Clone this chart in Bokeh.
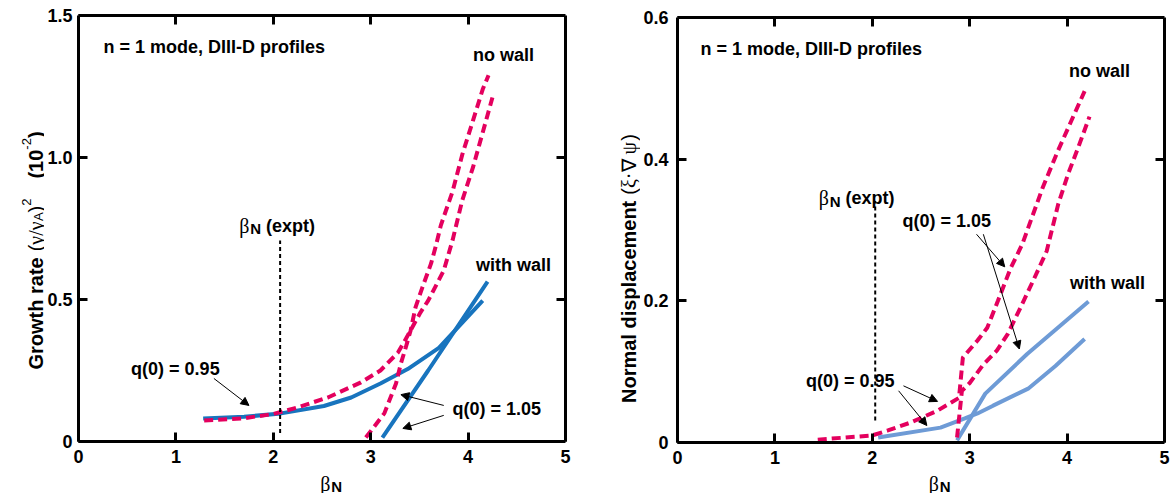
import math
from bokeh.plotting import figure
from bokeh.models import (Range1d, FixedTicker, LinearAxis, Label, Arrow, NormalHead,
                          CustomLabelingPolicy)
from bokeh.layouts import row, column
from bokeh.embed import file_html
from bokeh.resources import INLINE

# ---------------- data ----------------
x_ticks = [0, 1, 2, 3, 4, 5]
x_tick_labels = ["0", "1", "2", "3", "4", "5"]
gr_y_ticks = [0, 0.5, 1.0, 1.5]
gr_y_tick_labels = ["0", "0.5", "1.0", "1.5"]
nd_y_ticks = [0, 0.2, 0.4, 0.6]
nd_y_tick_labels = ["0", "0.2", "0.4", "0.6"]

# Growth rate panel (left)
gr_q095_wall_beta = [1.28, 1.7, 2.08, 2.52, 2.80, 3.10, 3.38, 3.70, 4.15]
gr_q095_wall_val = [0.081, 0.087, 0.099, 0.125, 0.155, 0.204, 0.255, 0.33, 0.496]
gr_q105_wall_beta = [3.12, 3.59, 4.20]
gr_q105_wall_val = [0.014, 0.25, 0.563]
gr_q095_nowall_beta = [1.29, 1.7, 2.0, 2.25, 2.56, 2.90, 3.10, 3.28, 3.38, 3.51, 3.59,
                       3.75, 3.84, 3.94, 4.05, 4.15, 4.25]
gr_q095_nowall_val = [0.074, 0.082, 0.097, 0.12, 0.155, 0.208, 0.25, 0.313, 0.373, 0.454, 0.496,
                      0.602, 0.708, 0.849, 0.965, 1.088, 1.211]
gr_q105_nowall_beta = [2.95, 3.14, 3.26, 3.31, 3.36, 3.41, 3.46, 3.53, 3.62, 3.67, 3.72,
                       3.84, 3.94, 4.05, 4.15, 4.21]
gr_q105_nowall_val = [0.014, 0.099, 0.204, 0.275, 0.331, 0.391, 0.472, 0.542, 0.627, 0.69, 0.761,
                      0.88, 1.01, 1.13, 1.24, 1.29]
gr_beta_expt = 2.07
gr_expt_line = [0.03, 0.708]

# Normal displacement panel (right)
nd_q095_wall_beta = [2.06, 2.70, 2.95, 3.08, 3.24, 3.60, 3.88, 4.18]
nd_q095_wall_val = [0.007, 0.021, 0.034, 0.041, 0.052, 0.076, 0.108, 0.146]
nd_q105_wall_beta = [2.87, 3.16, 3.59, 4.22]
nd_q105_wall_val = [0.003, 0.069, 0.125, 0.199]
nd_q095_nowall_beta = [1.44, 2.0, 2.16, 2.39, 2.67, 2.89, 2.93, 3.08, 3.18, 3.29, 3.42, 3.54,
                       3.75, 3.90, 4.03, 4.18]
nd_q095_nowall_val = [0.004, 0.01, 0.017, 0.028, 0.045, 0.063, 0.12, 0.144, 0.162, 0.20, 0.246,
                      0.28, 0.36, 0.41, 0.45, 0.496]
nd_q105_nowall_beta = [2.87, 2.92, 3.0, 3.14, 3.28, 3.39, 3.52, 3.65, 3.79, 3.91, 4.01, 4.11, 4.23]
nd_q105_nowall_val = [0.007, 0.073, 0.084, 0.11, 0.13, 0.153, 0.19, 0.228, 0.27, 0.337, 0.379,
                      0.415, 0.46]
nd_beta_expt = 2.03
nd_expt_line = [0.031, 0.341]

# ---------------- styles ----------------
RED = "#e4005e"
BLUE_L = "#1874be"
BLUE_R = "#6e9bd6"
SANS = "Liberation Sans"
SERIF = "Liberation Serif"
FS = 18
TS = 20
H = 493

SANS_B = {' ': .278, '(': .333, ')': .333, '-': .333, '.': .278, ',': .278, '=': .584,
          'A': .722, 'D': .722, 'G': .778, 'I': .278, 'N': .722, 'a': .556, 'c': .556,
          'd': .611, 'e': .556, 'f': .333, 'h': .611, 'i': .278, 'l': .278, 'm': .889,
          'n': .611, 'o': .611, 'p': .611, 'r': .389, 's': .556, 't': .333, 'w': .778,
          'x': .556}
SANS_R = {' ': .278, '(': .333, ')': .333, '/': .278, 'A': .667, '-': .333, '·': .333}
SERIF_R = {'β': .55, 'γ': .45, 'ξ': .45, 'ψ': .70, '∇': .72, '·': .25, ' ': .25, '/': .278}

HIDE_LABELS = CustomLabelingPolicy(
    code="const all = Array.from(indices); for (const i of all) { indices.unset(i) } return indices")


def text_width(txt, font, style, size):
    if font == SERIF:
        table = SERIF_R
    elif style == "bold":
        table = SANS_B
    else:
        table = SANS_R
    return sum(table.get(c, .556) for c in txt) * size


def piece_list_width(pieces):
    return sum(text_width(t, f, s, z) + g for t, f, s, z, sh, g in pieces)


def compose(p, x, y, pieces, vertical=False):
    adv = 0.0
    for txt, font, style, size, shift, gap in pieces:
        adv += gap
        kw = dict(x=x, y=y, text=txt, text_font=font, text_font_style=style,
                  text_font_size=f"{size}px", text_align="left",
                  text_baseline="alphabetic", text_color="black")
        if vertical:
            kw.update(angle=math.pi / 2, x_offset=-shift, y_offset=adv)
        else:
            kw.update(x_offset=adv, y_offset=shift)
        p.add_layout(Label(**kw))
        adv += text_width(txt, font, style, size)


def note(p, x, y, txt):
    p.add_layout(Label(x=x, y=y, text=txt, text_font=SANS, text_font_style="bold",
                       text_font_size=f"{FS}px", text_align="left", text_baseline="middle",
                       text_color="black"))


def arrow(p, x0, y0, x1, y1):
    p.add_layout(Arrow(x_start=x0, y_start=y0, x_end=x1, y_end=y1, line_width=1,
                       line_color="black",
                       end=NormalHead(size=8, fill_color="black", line_color="black",
                                      line_width=1)))


def strip(width, height):
    s = figure(width=width, height=height, x_range=Range1d(0, width),
               y_range=Range1d(0, height), output_backend="svg", toolbar_location=None,
               x_axis_type=None, y_axis_type=None, min_border=0,
               min_border_left=0, min_border_right=0, min_border_top=0, min_border_bottom=0)
    s.grid.visible = False
    s.outline_line_color = None
    return s


def make_fig(width, height, ymax, yticks, ylabels, bl, br, bt, bb, ystandoff):
    p = figure(width=width, height=height, x_range=Range1d(0, 5), y_range=Range1d(0, ymax),
               output_backend="svg", toolbar_location=None,
               min_border_left=bl, min_border_right=br, min_border_top=bt,
               min_border_bottom=bb)
    p.grid.visible = False
    p.outline_line_color = None
    xa = p.xaxis[0]
    xa.ticker = FixedTicker(ticks=x_ticks)
    xa.major_label_overrides = {t: l for t, l in zip(x_ticks, x_tick_labels)}
    ya = p.yaxis[0]
    ya.ticker = FixedTicker(ticks=yticks)
    ya.major_label_overrides = {t: l for t, l in zip(yticks, ylabels)}
    for ax in (xa, ya):
        ax.axis_line_width = 3
        ax.major_tick_line_width = 3
        ax.major_tick_in = 9
        ax.major_tick_out = 0
        ax.minor_tick_line_color = None
        ax.major_label_text_font = SANS
        ax.major_label_text_font_style = "bold"
        ax.major_label_text_font_size = f"{FS}px"
        ax.major_label_text_color = "black"
    xa.major_label_standoff = 8
    ya.major_label_standoff = ystandoff
    top = LinearAxis(ticker=FixedTicker(ticks=x_ticks[1:-1]), major_label_policy=HIDE_LABELS,
                     major_label_standoff=0, major_label_text_font_size="1px")
    right = LinearAxis(ticker=FixedTicker(ticks=yticks[1:-1]), major_label_policy=HIDE_LABELS,
                       major_label_standoff=0, major_label_text_font_size="1px")
    for ax in (top, right):
        ax.axis_line_width = 3
        ax.major_tick_line_width = 3
        ax.major_tick_in = 9
        ax.major_tick_out = 0
        ax.minor_tick_line_color = None
    p.add_layout(top, "above")
    p.add_layout(right, "right")
    return p


BETA_N = [("β", SERIF, "normal", 20, 0, 0), ("N", SANS, "bold", 15, -3, 0)]
MAIN_H, XT_H = 469, 24

# ---------------- left panel ----------------
L_TITLE_W, L_MAIN_W = 44, 542
p1 = make_fig(L_MAIN_W, MAIN_H, 1.5, gr_y_ticks, gr_y_tick_labels, 33, 21, 15, 28, 6)
p1.line(gr_q095_wall_beta, gr_q095_wall_val, line_color=BLUE_L, line_width=4)
p1.line(gr_q105_wall_beta, gr_q105_wall_val, line_color=BLUE_L, line_width=4)
p1.line(gr_q095_nowall_beta, gr_q095_nowall_val, line_color=RED, line_width=4, line_dash="9 5")
p1.line(gr_q105_nowall_beta, gr_q105_nowall_val, line_color=RED, line_width=4, line_dash="9 5")
p1.line([gr_beta_expt, gr_beta_expt], gr_expt_line, line_color="black", line_width=2,
        line_dash="4 3")

note(p1, 0.256, 1.39, "n = 1 mode, DIII-D profiles")
note(p1, 4.05, 1.36, "no wall")
note(p1, 4.08, 0.62, "with wall")
note(p1, 0.54, 0.257, "q(0) = 0.95")
note(p1, 3.84, 0.116, "q(0) = 1.05")
arrow(p1, 1.39, 0.222, 1.75, 0.127)
arrow(p1, 3.75, 0.127, 3.31, 0.165)
arrow(p1, 3.75, 0.092, 3.33, 0.046)
compose(p1, 1.65, 0.76, BETA_N + [("(expt)", SANS, "bold", FS, 0, 5)])

gr_ytitle = [("Growth rate", SANS, "bold", TS, 0, 0),
             ("(", SANS, "normal", TS, 0, 6),
             ("γ/γ", SERIF, "normal", TS, 0, 0),
             ("A", SANS, "normal", 13, -3, 0),
             (")", SANS, "normal", TS, 0, 0),
             ("2", SANS, "normal", 13, 9, 0),
             ("(10", SANS, "bold", TS, 0, 20),
             ("-2", SANS, "normal", 13, 9, 0),
             (")", SANS, "bold", TS, 0, 0)]
yt1 = strip(L_TITLE_W, H)
compose(yt1, 35, (H - 250) - piece_list_width(gr_ytitle) / 2, gr_ytitle, vertical=True)
xt1 = strip(L_MAIN_W, XT_H)
compose(xt1, 313 - L_TITLE_W, 10, BETA_N)

# ---------------- right panel ----------------
R_TITLE_W, R_MAIN_W = 54, 533
p2 = make_fig(R_MAIN_W, MAIN_H, 0.6, nd_y_ticks, nd_y_tick_labels, 37, 9, 17, 27, 9)
p2.line(nd_q095_wall_beta, nd_q095_wall_val, line_color=BLUE_R, line_width=4)
p2.line(nd_q105_wall_beta, nd_q105_wall_val, line_color=BLUE_R, line_width=4)
p2.line(nd_q095_nowall_beta, nd_q095_nowall_val, line_color=RED, line_width=4, line_dash="9 5")
p2.line(nd_q105_nowall_beta, nd_q105_nowall_val, line_color=RED, line_width=4, line_dash="9 5")
p2.line([nd_beta_expt, nd_beta_expt], nd_expt_line, line_color="black", line_width=2,
        line_dash="4 3")

note(p2, 0.236, 0.555, "n = 1 mode, DIII-D profiles")
note(p2, 4.02, 0.524, "no wall")
note(p2, 4.03, 0.225, "with wall")
note(p2, 2.31, 0.313, "q(0) = 1.05")
note(p2, 1.32, 0.087, "q(0) = 0.95")
arrow(p2, 3.07, 0.294, 3.36, 0.248)
arrow(p2, 3.14, 0.294, 3.51, 0.132)
arrow(p2, 2.32, 0.080, 2.67, 0.058)
arrow(p2, 2.27, 0.073, 2.56, 0.024)
compose(p2, 1.45, 0.345, BETA_N + [("(expt)", SANS, "bold", FS, 0, 5)])

nd_ytitle = [("Normal displacement", SANS, "bold", TS, 0, 0),
             ("(", SANS, "normal", TS, 0, 6),
             ("ξ·∇ ψ", SERIF, "normal", TS, 0, 0),
             (")", SANS, "normal", TS, 0, 0)]
yt2 = strip(R_TITLE_W, H)
compose(yt2, 42, (H - 268) - piece_list_width(nd_ytitle) / 2, nd_ytitle, vertical=True)
xt2 = strip(R_MAIN_W, XT_H)
compose(xt2, 915 - 586 - R_TITLE_W, 10, BETA_N)

layout = row(yt1, column(p1, xt1), yt2, column(p2, xt2))
open("out.html", "w").write(file_html(layout, INLINE))
